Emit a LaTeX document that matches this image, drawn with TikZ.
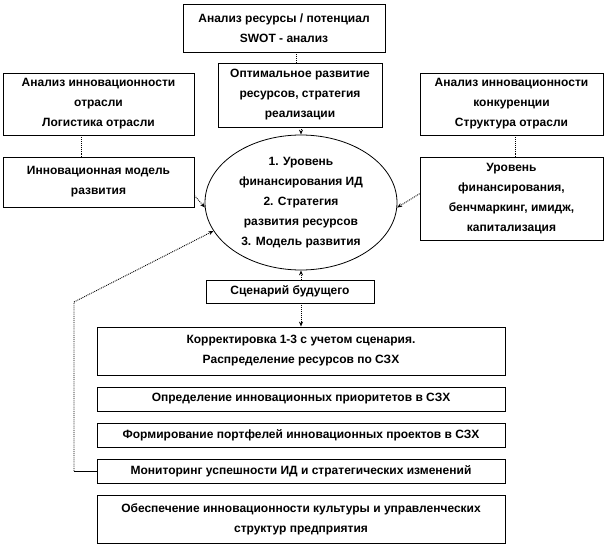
\documentclass[tikz,border=0pt]{standalone}
\usepackage{fontspec}
\setmainfont{Liberation Sans}
\usetikzlibrary{arrows.meta, positioning, shapes.geometric, calc}
\tikzset{
  every picture/.style={font=\bfseries\fontsize{12}{20}\selectfont, line width=0.8pt},
  box/.style={draw, rectangle, align=center, inner sep=2pt},
  link/.style={densely dotted, line width=0.9pt},
  arrow/.style={link, -{Stealth[length=5pt, width=4pt]}},
}
\begin{document}
\begin{tikzpicture}[x=1pt, y=-1pt]
  \useasboundingbox (0,0) rectangle (606,546);
  % upper row: analysis
  \node[box, minimum width=202pt, minimum height=48pt] (swot) at (284,28) {Анализ ресурсы / потенциал\\SWOT - анализ};
  \node[box, minimum width=164pt, minimum height=64pt] (optim) at (300,95) {Оптимальное развитие\\ресурсов, стратегия\\реализации};
  \node[box, minimum width=191pt, minimum height=62pt] (branch) at (98.5,104) {Анализ инновационности\\отрасли\\Логистика отрасли};
  \node[box, minimum width=183pt, minimum height=62pt] (rivals) at (511.5,104) {Анализ инновационности\\конкуренции\\Структура отрасли};
  \node[box, minimum width=191pt, minimum height=50pt] (model) at (98.5,182) {Инновационная модель\\развития};
  \node[box, minimum width=183pt, minimum height=83pt] (level) at (511.5,198.5) {Уровень\\финансирования,\\бенчмаркинг, имидж,\\капитализация};
  % centre: the goals
  \node[ellipse, draw, minimum width=192pt, minimum height=135pt] (goals) at (301,202.5) {};
  \node[align=center] (goalstext) at (goals) {1. Уровень\\финансирования ИД\\2. Стратегия\\развития ресурсов\\3. Модель развития};
  \node[box, minimum width=168pt, minimum height=23pt] (future) at (290,291.5) {Сценарий будущего};
  % lower stack: the steps
  \foreach \n/\y/\h/\t in {fix/351/48pt/{Корректировка 1-3 с учетом сценария.\\Распределение ресурсов по СЗХ},
                           prio/399/24pt/{Определение инновационных приоритетов в СЗХ},
                           port/435/24pt/{Формирование портфелей инновационных проектов в СЗХ},
                           mon/471/24pt/{Мониторинг успешности ИД и стратегических изменений},
                           cult/519/48pt/{Обеспечение инновационности культуры и управленческих\\структур предприятия}} {
    \node[box, minimum width=408pt, minimum height=\h] (\n) at (301,\y) {\t};
  }
  % connectors
  \draw[link] (swot.south -| 296,0) -- (optim.north -| 296,0);
  \draw[arrow] (optim.south -| goals.north) -- (goals.north);
  \draw[link] (branch.south -| 81,0) -- (model.north -| 81,0);
  \draw[link] (rivals.south -| 515,0) -- (level.north -| 515,0);
  \draw[arrow] (model.-8) -- (goals.183);
  \draw[arrow] (level.177) -- (goals.-3);
  \draw[arrow] (future.north -| goals.south) -- (goals.south);
  \draw[arrow] (future.south -| goals.south) -- (fix.north -| goals.south);
  % feedback from monitoring
  \coordinate (fbturn) at (74,302);
  \draw (mon.west) -- (mon.west -| fbturn);
  \draw[arrow] (mon.west -| fbturn) -- (fbturn) -- (goals.198);
\end{tikzpicture}
\end{document}
